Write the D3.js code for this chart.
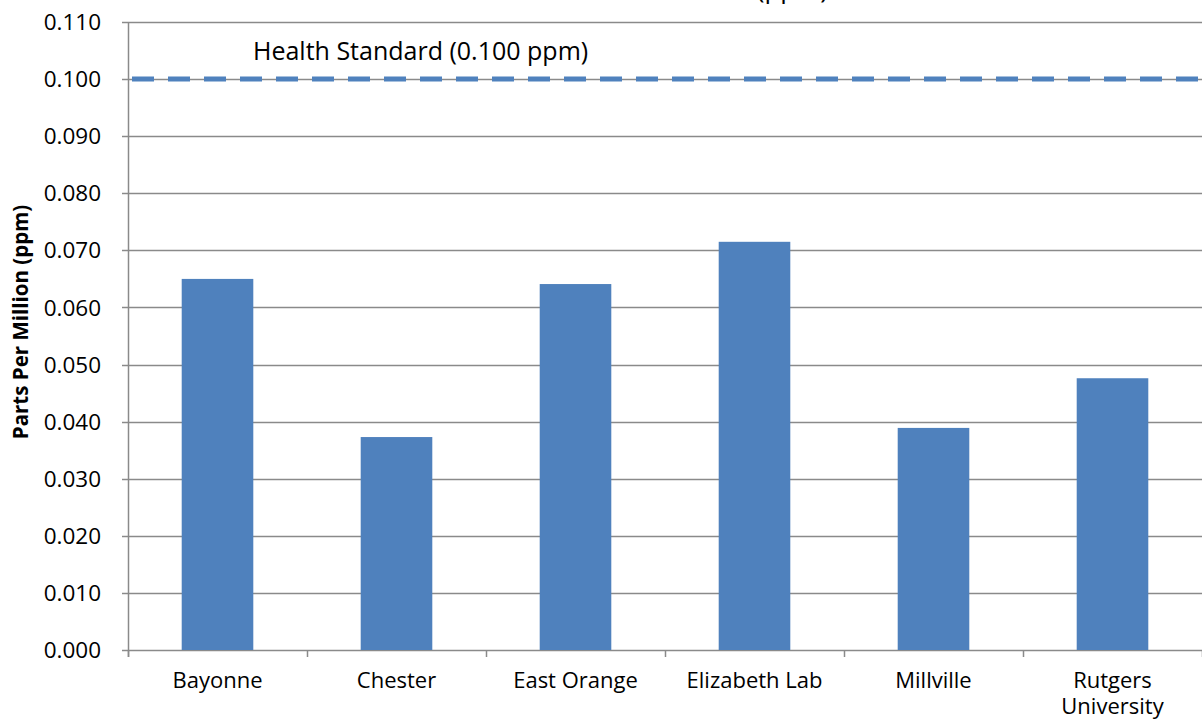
<!DOCTYPE html>
<html>
<head>
<meta charset="utf-8">
<script src="https://cdn.jsdelivr.net/npm/d3@7"></script>
<style>
  html, body { margin: 0; padding: 0; background: #fff; }
  svg { display: block; font-family: "Open Sans", sans-serif; }
</style>
</head>
<body>
<svg id="chart" width="1202" height="723"></svg>
<script>
const categories = ["Bayonne", "Chester", "East Orange", "Elizabeth Lab", "Millville", "Rutgers University"];
const values = [0.0650, 0.0373, 0.0641, 0.0715, 0.0389, 0.0476];
const yTicks = [0, 0.01, 0.02, 0.03, 0.04, 0.05, 0.06, 0.07, 0.08, 0.09, 0.10, 0.11];
const standardValue = 0.100;
const standardLabel = "Health Standard (0.100 ppm)";
const yTitle = "Parts Per Million (ppm)";
const titleTail = "(ppm)";

(function () {
const svg = d3.select("#chart");
const pLeft = 128, pRight = 1202, pTop = 22, pBottom = 650;
const gridColor = "#8a8a8a";
const barColor = "#4F81BD";

const x = d3.scaleBand().domain(categories).range([pLeft, pRight]).paddingInner(0.6).paddingOuter(0.3);
const y = d3.scaleLinear().domain([0, 0.11]).range([pBottom, pTop]);

// clipped title remnant
svg.append("text").attr("x", 828).attr("y", -2).attr("text-anchor", "end")
  .attr("font-size", 26).attr("fill", "#000").text(titleTail);

// gridlines
svg.append("g").selectAll("line").data(yTicks).join("line")
  .attr("x1", pLeft - 6).attr("x2", pRight)
  .attr("y1", d => Math.round(y(d)) + 0.5).attr("y2", d => Math.round(y(d)) + 0.5)
  .attr("stroke", gridColor).attr("stroke-width", 1.5);

// y axis labels
svg.append("g").selectAll("text").data(yTicks).join("text")
  .attr("x", 101).attr("y", d => y(d)).attr("dy", "0.36em")
  .attr("text-anchor", "end").attr("font-size", 22.5).attr("fill", "#000")
  .text(d => d3.format(".3f")(d));

// y axis line
svg.append("line").attr("x1", pLeft + 0.5).attr("x2", pLeft + 0.5)
  .attr("y1", pTop).attr("y2", pBottom + 7).attr("stroke", gridColor).attr("stroke-width", 1.5);

// x ticks at band boundaries
const step = x.step();
const bounds = d3.range(categories.length + 1).map(i => pLeft + i * step);
svg.append("g").selectAll("line").data(bounds).join("line")
  .attr("x1", d => Math.round(d) + 0.5).attr("x2", d => Math.round(d) + 0.5)
  .attr("y1", pBottom).attr("y2", pBottom + 7)
  .attr("stroke", gridColor).attr("stroke-width", 1.5);

// bars
svg.append("g").selectAll("rect").data(values).join("rect")
  .attr("x", (d, i) => x(categories[i])).attr("width", x.bandwidth())
  .attr("y", d => y(d)).attr("height", d => y(0) - y(d))
  .attr("fill", barColor);

// health standard dashed line
svg.append("line").attr("x1", pLeft + 4).attr("x2", pRight)
  .attr("y1", y(standardValue)).attr("y2", y(standardValue))
  .attr("stroke", barColor).attr("stroke-width", 5)
  .attr("stroke-dasharray", "22,14");

svg.append("text").attr("x", 253).attr("y", 60)
  .attr("font-size", 25).attr("fill", "#000").text(standardLabel);

// x labels with wrapping (multi-line via tspans)
const xl = svg.append("g");
categories.forEach(c => {
  const cx = x(c) + x.bandwidth() / 2;
  const lines = c.length > 14 ? c.split(" ") : [c];
  const t = xl.append("text").attr("x", cx).attr("y", 688)
    .attr("text-anchor", "middle").attr("font-size", 22).attr("fill", "#000");
  lines.forEach((ln, j) => {
    t.append("tspan").attr("x", cx).attr("dy", j === 0 ? 0 : 26).text(ln);
  });
});

// y title
svg.append("text").attr("transform", `translate(28,322) rotate(-90)`)
  .attr("text-anchor", "middle").attr("font-size", 20.5).attr("font-weight", "bold")
  .attr("fill", "#000").text(yTitle);
})();
</script>
</body>
</html>
